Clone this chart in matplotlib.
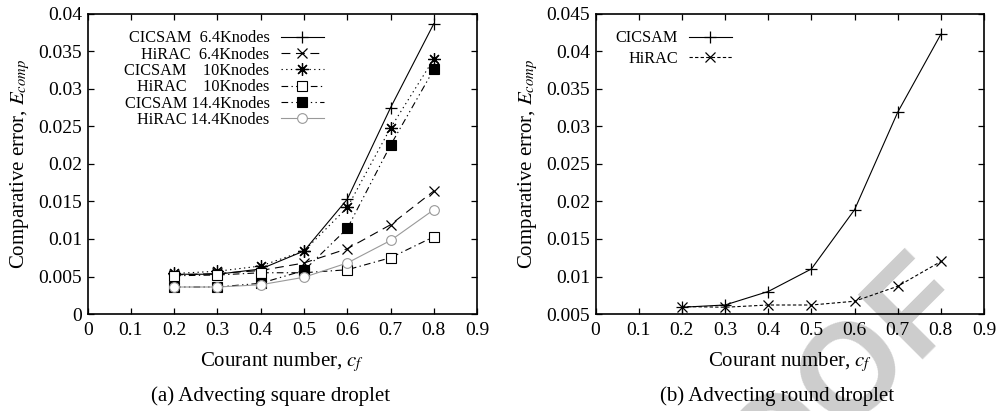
import matplotlib
matplotlib.use("Agg")
import matplotlib.pyplot as plt
from matplotlib.ticker import MultipleLocator, FuncFormatter

plt.rcParams["font.family"] = ["Liberation Serif", "DejaVu Serif"]
plt.rcParams["mathtext.fontset"] = "stix"

# ── data ─────────────────────────────────────────────────────────────────
courant = [0.2, 0.3, 0.4, 0.5, 0.6, 0.7, 0.8]

# (a) square droplet
cicsam_6k = [0.0053, 0.0053, 0.0060, 0.0084, 0.0153, 0.0275, 0.0387]
hirac_6k = [0.0052, 0.0054, 0.0058, 0.0068, 0.0087, 0.0119, 0.0164]
cicsam_10k = [0.0054, 0.0057, 0.0064, 0.0084, 0.0142, 0.0248, 0.0340]
hirac_10k = [0.0051, 0.0052, 0.0055, 0.0055, 0.0059, 0.0075, 0.0103]
cicsam_14k = [0.0036, 0.0036, 0.0041, 0.0058, 0.0114, 0.0225, 0.0326]
hirac_14k = [0.0036, 0.0036, 0.0039, 0.0049, 0.0068, 0.0098, 0.0139]

labels_a = [
    "CICSAM  6.4Knodes",
    "HiRAC  6.4Knodes",
    "CICSAM    10Knodes",
    "HiRAC    10Knodes",
    "CICSAM 14.4Knodes",
    "HiRAC 14.4Knodes",
]

# (b) round droplet
cicsam_round = [0.0059, 0.0062, 0.0080, 0.0110, 0.0189, 0.0319, 0.0423]
hirac_round = [0.0060, 0.0059, 0.0062, 0.0062, 0.0067, 0.0087, 0.0120]
labels_b = ["CICSAM", "HiRAC"]

xticks = [0, 0.1, 0.2, 0.3, 0.4, 0.5, 0.6, 0.7, 0.8, 0.9]


def gfmt(v, pos):
    return "%g" % round(v, 4)


def style_axes(ax, ylo, yhi):
    ax.set_facecolor("none")
    ax.set_xlim(0, 0.9)
    ax.set_ylim(ylo, yhi)
    ax.set_xticks(xticks)
    ax.yaxis.set_major_locator(MultipleLocator(0.005))
    ax.xaxis.set_major_formatter(FuncFormatter(gfmt))
    ax.yaxis.set_major_formatter(FuncFormatter(gfmt))
    ax.tick_params(direction="in", top=True, right=True, length=4,
                   width=0.9, labelsize=14)
    ax.tick_params(axis="x", pad=6)
    ax.tick_params(axis="y", pad=4)
    for sp in ax.spines.values():
        sp.set_linewidth(1.2)
    ax.set_xlabel("Courant number, $c_f$", fontsize=15, labelpad=7.5)
    ax.set_ylabel("Comparative error, $E_{comp}$", fontsize=15, labelpad=4.5)


fig = plt.figure(figsize=(9.97, 4.11), dpi=100)
ax_a = fig.add_axes([0.0879, 0.236, 0.3906, 0.730])
ax_b = fig.add_axes([0.5973, 0.236, 0.3897, 0.730])

# ── (a) ──────────────────────────────────────────────────────────────────
lw = 0.8
ax_a.plot(courant, cicsam_6k, color="black", lw=lw, ls="-",
          marker="+", ms=8, mew=0.9, label=labels_a[0])
ax_a.plot(courant, hirac_6k, color="black", lw=lw, ls=(0, (8, 5)),
          marker="x", ms=7.5, mew=0.9, label=labels_a[1])
ax_a.plot(courant, cicsam_10k, color="black", lw=lw, ls=(0, (1.2, 3)),
          marker=(8, 2, 0), ms=9, mew=0.9, label=labels_a[2])
ax_a.plot(courant, hirac_10k, color="black", lw=lw, ls=(0, (6, 3, 1.2, 3)),
          marker="s", ms=7, mew=0.8, mfc="white", label=labels_a[3])
ax_a.plot(courant, cicsam_14k, color="black", lw=lw,
          ls=(0, (6, 3, 1.2, 3, 1.2, 3)),
          marker="s", ms=7.5, mew=0.8, mfc="black", label=labels_a[4])
ax_a.plot(courant, hirac_14k, color="#999999", lw=lw, ls="-",
          marker="o", ms=7, mew=0.8, mfc="white", label=labels_a[5])
style_axes(ax_a, 0, 0.04)
ax_a.legend(loc="upper right", bbox_to_anchor=(0.607, 0.945), frameon=False,
            markerfirst=False, fontsize=11.7, borderpad=0, borderaxespad=0,
            handlelength=2.65, handletextpad=0.7, labelspacing=0.02)

# ── (b) ──────────────────────────────────────────────────────────────────
ax_b.plot(courant, cicsam_round, color="black", lw=lw, ls="-",
          marker="+", ms=8, mew=0.9, label=labels_b[0])
ax_b.plot(courant, hirac_round, color="black", lw=lw, ls=(0, (3, 2)),
          marker="x", ms=7.5, mew=0.9, label=labels_b[1])
style_axes(ax_b, 0.005, 0.045)
ax_b.legend(loc="upper right", bbox_to_anchor=(0.351, 0.945), frameon=False,
            markerfirst=False, fontsize=11.7, borderpad=0, borderaxespad=0,
            handlelength=2.65, handletextpad=0.68, labelspacing=0.28)

# ── captions and watermark ───────────────────────────────────────────────
fig.text(0.271, 0.035, "(a) Advecting square droplet", fontsize=15,
         ha="center", va="center")
fig.text(0.779, 0.035, "(b) Advecting round droplet", fontsize=15,
         ha="center", va="center")
fig.text(0.974, 0.265, "PROOF", rotation=45, rotation_mode="anchor",
         ha="right", va="baseline", fontsize=94, fontweight="bold",
         family="Liberation Sans", color="#cdcdcd", zorder=-1)

fig.savefig("out.png", dpi=100)
